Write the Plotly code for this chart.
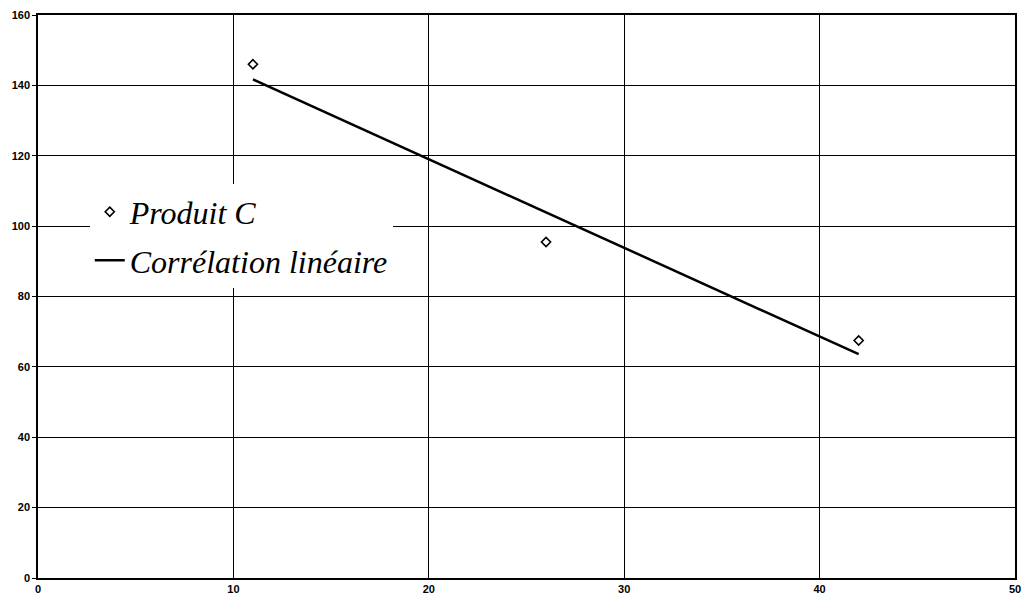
import plotly.graph_objects as go

# observed points (Produit C)
produit_x = [11, 26, 42]
produit_y = [146, 95.5, 67.5]

# linear trend line end points
trend_x = [11, 42]
trend_y = [141.7, 63.6]

x_ticks = [0, 10, 20, 30, 40, 50]
y_ticks = [0, 20, 40, 60, 80, 100, 120, 140, 160]

fig = go.Figure()
fig.add_trace(go.Scatter(
    x=produit_x, y=produit_y, mode='markers', name='Produit C',
    legendgroup='a',
    marker=dict(symbol='diamond-open', size=7, color='black',
                line=dict(color='black', width=1.6)),
))
fig.add_trace(go.Scatter(
    x=trend_x, y=trend_y, mode='lines', name='Corrélation linéaire',
    legendgroup='b',
    line=dict(color='black', width=2.5),
))

axis_font = dict(family='Liberation Sans, Arial', size=11, color='black')

# the page body adds an 8px margin, so the figure is sized to fit inside it
fig.update_layout(
    width=1014, height=586,
    margin=dict(l=30, r=7, t=7, b=16),
    paper_bgcolor='white', plot_bgcolor='white',
    showlegend=True,
    legend=dict(
        x=0.053, y=0.699, xanchor='left', yanchor='top',
        bgcolor='white', borderwidth=0,
        font=dict(family='Liberation Serif, Times New Roman', size=32,
                  color='black', style='italic'),
        traceorder='grouped', tracegroupgap=4, itemwidth=30,
    ),
    xaxis=dict(
        range=[0, 50], tickvals=x_ticks, ticktext=[f'<b>{v}</b>' for v in x_ticks],
        showgrid=True, gridcolor='black', gridwidth=1,
        showline=True, linecolor='black', linewidth=1.5, mirror=True,
        ticks='', tickfont=axis_font, zeroline=False, automargin=False,
        ticklabeloverflow='allow',
    ),
    yaxis=dict(
        range=[0, 160], tickvals=y_ticks, ticktext=[f'<b>{v}</b>' for v in y_ticks],
        showgrid=True, gridcolor='black', gridwidth=1,
        showline=True, linecolor='black', linewidth=1.5, mirror=True,
        ticks='outside', ticklen=4, tickcolor='black',
        tickfont=axis_font, zeroline=False, automargin=False,
    ),
)

fig.write_html("out.html")
